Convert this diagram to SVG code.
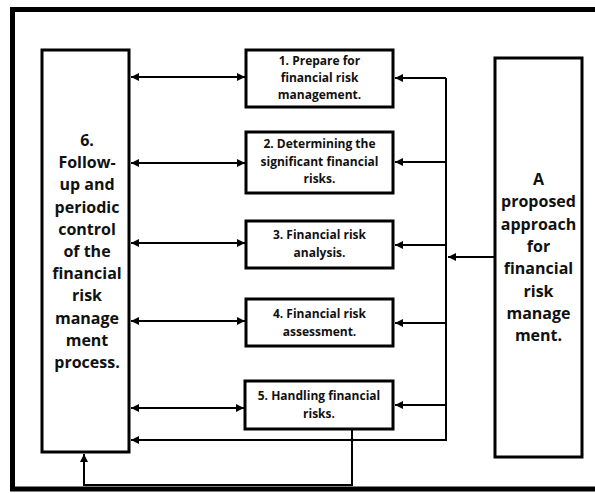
<svg xmlns="http://www.w3.org/2000/svg" width="595" height="493" viewBox="0 0 595 493">
<style>
.box{fill:#fff;stroke:#000;stroke-width:3}
.ln{fill:none;stroke:#000;stroke-width:2}
.t{font-family:"Open Sans","Noto Sans",sans-serif;font-weight:bold;font-size:12px;text-anchor:middle;fill:#111}
.b{font-family:"Open Sans","Noto Sans",sans-serif;font-weight:bold;font-size:16px;text-anchor:middle;fill:#111}
</style>
<defs>
<marker id="ah" viewBox="0 0 10 10" refX="10" refY="5" markerWidth="8" markerHeight="8" markerUnits="userSpaceOnUse" orient="auto-start-reverse">
<path d="M0,0 L10,5 L0,10 z" fill="#000"/>
</marker>
</defs>
<rect width="595" height="493" fill="#fff"/>
<g id="frame">
<path d="M595,9.5 H12.5 V489 H595" fill="none" stroke="#000" stroke-width="5"/>
</g>
<g id="node6">
<rect class="box" x="42" y="50" width="87" height="402"/>
<text class="b" x="87" y="146">6.</text>
<text class="b" x="87" y="168">Follow-</text>
<text class="b" x="87" y="190">up and</text>
<text class="b" x="87" y="213">periodic</text>
<text class="b" x="87" y="235">control</text>
<text class="b" x="87" y="257">of the</text>
<text class="b" x="87" y="279">financial</text>
<text class="b" x="87" y="301">risk</text>
<text class="b" x="87" y="324">manage</text>
<text class="b" x="87" y="346">ment</text>
<text class="b" x="87" y="368">process.</text>
</g>
<g id="node1">
<rect class="box" x="246" y="50" width="147" height="57"/>
<text class="t" x="319.5" y="65">1. Prepare for</text>
<text class="t" x="319.5" y="82">financial risk</text>
<text class="t" x="319.5" y="99">management.</text>
</g>
<g id="node2">
<rect class="box" x="246" y="132" width="147" height="61"/>
<text class="t" x="319.5" y="148">2. Determining the</text>
<text class="t" x="319.5" y="166">significant financial</text>
<text class="t" x="319.5" y="183">risks.</text>
</g>
<g id="node3">
<rect class="box" x="246" y="221" width="147" height="47"/>
<text class="t" x="319.5" y="239">3. Financial risk</text>
<text class="t" x="319.5" y="257">analysis.</text>
</g>
<g id="node4">
<rect class="box" x="246" y="299" width="147" height="47"/>
<text class="t" x="319.5" y="318">4. Financial risk</text>
<text class="t" x="319.5" y="336">assessment.</text>
</g>
<g id="node5">
<rect class="box" x="245" y="381" width="148" height="48"/>
<text class="t" x="319" y="400">5. Handling financial</text>
<text class="t" x="319" y="418">risks.</text>
</g>
<g id="nodeA">
<rect class="box" x="495" y="58" width="87" height="399"/>
<text class="b" x="538.5" y="185">A</text>
<text class="b" x="538.5" y="207">proposed</text>
<text class="b" x="538.5" y="230">approach</text>
<text class="b" x="538.5" y="252">for</text>
<text class="b" x="538.5" y="274">financial</text>
<text class="b" x="538.5" y="297">risk</text>
<text class="b" x="538.5" y="319">manage</text>
<text class="b" x="538.5" y="341">ment.</text>
</g>
<g id="connectors">
<line class="ln" x1="131" y1="77" x2="245" y2="77" marker-start="url(#ah)" marker-end="url(#ah)"/>
<line class="ln" x1="131" y1="163" x2="245" y2="163" marker-start="url(#ah)" marker-end="url(#ah)"/>
<line class="ln" x1="131" y1="243" x2="245" y2="243" marker-start="url(#ah)" marker-end="url(#ah)"/>
<line class="ln" x1="131" y1="321" x2="245" y2="321" marker-start="url(#ah)" marker-end="url(#ah)"/>
<line class="ln" x1="131" y1="408" x2="244" y2="408" marker-start="url(#ah)" marker-end="url(#ah)"/>
<line class="ln" x1="446" y1="78" x2="446" y2="440"/>
<line class="ln" x1="446" y1="78" x2="395" y2="78" marker-end="url(#ah)"/>
<line class="ln" x1="446" y1="162" x2="395" y2="162" marker-end="url(#ah)"/>
<line class="ln" x1="446" y1="245" x2="395" y2="245" marker-end="url(#ah)"/>
<line class="ln" x1="446" y1="323" x2="395" y2="323" marker-end="url(#ah)"/>
<line class="ln" x1="446" y1="405" x2="395" y2="405" marker-end="url(#ah)"/>
<line class="ln" x1="495" y1="257" x2="448" y2="257" marker-end="url(#ah)"/>
<line class="ln" x1="447" y1="440" x2="131" y2="440" marker-end="url(#ah)"/>
<path class="ln" d="M352,429 V485 H84 V454" marker-end="url(#ah)"/>
</g>
</svg>
